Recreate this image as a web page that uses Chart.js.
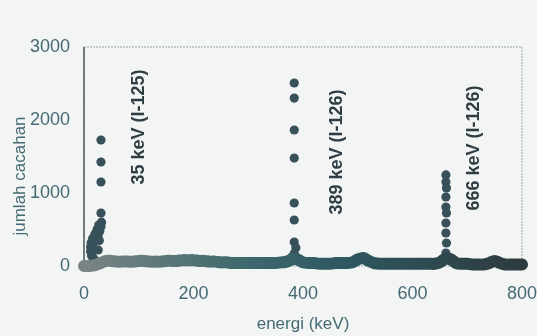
<!DOCTYPE html>
<html>
<head>
<meta charset="utf-8">
<script src="https://cdn.jsdelivr.net/npm/chart.js@4/dist/chart.umd.min.js"></script>
<style>
  html, body { margin: 0; padding: 0; background: #f3f5f4; }
  canvas { display: block; }
</style>
</head>
<body>
<canvas id="spectrum" width="537" height="336"></canvas>
<script>
// continuum (background) counts, every 10 keV from 0 to 800
const continuumEnergy = [0, 10, 20, 30, 40, 50, 60, 70, 80, 90, 100, 110, 120, 130, 140, 150, 160, 170, 180, 190,
  200, 210, 220, 230, 240, 250, 260, 270, 280, 290, 300, 310, 320, 330, 340, 350, 360, 370, 380, 390,
  400, 410, 420, 430, 440, 450, 460, 470, 480, 490, 500, 510, 520, 530, 540, 550, 560, 570, 580, 590,
  600, 610, 620, 630, 640, 650, 660, 670, 680, 690, 700, 710, 720, 730, 740, 750, 760, 770, 780, 790, 800];
const continuumCounts = [0, 0, 10, 40, 70, 70, 60, 60, 60, 60, 70, 70, 60, 60, 60, 70, 70, 70, 80, 80,
  80, 70, 70, 60, 60, 50, 50, 40, 40, 40, 40, 40, 40, 40, 40, 40, 50, 60, 90, 90,
  50, 40, 40, 30, 30, 30, 40, 40, 40, 50, 90, 110, 70, 40, 30, 30, 30, 30, 30, 30,
  30, 30, 30, 30, 30, 50, 100, 90, 40, 30, 30, 20, 20, 20, 40, 70, 40, 20, 20, 20, 20];

// photopeak channels
const peakEnergy = [31, 31, 31, 31,
  32, 31, 29, 26, 22, 18, 15, 14, 14, 15, 17, 20,
  27, 24, 20, 16, 13, 12, 12, 14, 18, 23, 28, 26,
  384, 384, 384, 384, 384, 384, 384, 387, 384, 381, 388,
  661, 661, 662, 661, 661, 662, 661, 661, 662, 661, 661];
const peakCounts = [1726, 1425, 1151, 726,
  600, 540, 480, 430, 380, 330, 280, 230, 180, 130, 80, 40,
  560, 500, 440, 380, 320, 260, 200, 140, 100, 60, 350, 220,
  2507, 2301, 1863, 1479, 863, 630, 329, 250, 170, 130, 120,
  1247, 1151, 1068, 945, 808, 726, 589, 452, 315, 178, 100];

const peakLabels = ["35 keV (I-125)", "389 keV (I-126)", "666 keV (I-126)"];
const peakLabelEnergy = [101, 463, 712];
const peakLabelCounts = [1904, 1562, 1616];

const xTicks = [0, 200, 400, 600, 800];
const yTicks = [0, 1000, 2000, 3000];

const toPoints = (xs, ys) => xs.map((x, i) => ({ x: x, y: ys[i] }));

const frame = {
  id: "frame",
  beforeDatasetsDraw(chart) {
    const { ctx, chartArea: a } = chart;
    ctx.save();
    ctx.strokeStyle = "#9aa4a6";
    ctx.lineWidth = 1;
    ctx.setLineDash([2, 1]);
    ctx.strokeRect(a.left, a.top, a.right - a.left, a.bottom - a.top);
    ctx.setLineDash([]);
    ctx.strokeStyle = "#4f5a5b";
    ctx.lineWidth = 1.5;
    ctx.beginPath();
    ctx.moveTo(a.left, a.top);
    ctx.lineTo(a.left, a.bottom);
    ctx.stroke();
    ctx.restore();
  },
  afterDraw(chart) {
    const { ctx } = chart;
    const x = chart.scales.x, y = chart.scales.y;
    ctx.save();
    ctx.textAlign = "center";
    ctx.textBaseline = "middle";
    ctx.fillStyle = "#2f3e44";
    ctx.font = "bold 18px 'Liberation Sans', Arial, sans-serif";
    peakLabels.forEach((t, i) => {
      ctx.save();
      ctx.translate(x.getPixelForValue(peakLabelEnergy[i]), y.getPixelForValue(peakLabelCounts[i]));
      ctx.rotate(-Math.PI / 2);
      ctx.fillText(t, 0, 0);
      ctx.restore();
    });
    // y axis title
    ctx.fillStyle = "#466a74";
    ctx.font = "17px 'Liberation Sans', Arial, sans-serif";
    ctx.translate(20, 176);
    ctx.rotate(-Math.PI / 2);
    ctx.fillText("jumlah cacahan", 0, 0);
    ctx.restore();
  }
};

const tickFont = { family: "'Liberation Sans', Arial, sans-serif", size: 18 };

new Chart(document.getElementById("spectrum"), {
  type: "scatter",
  data: {
    datasets: [
      {
        label: "continuum",
        data: toPoints(continuumEnergy, continuumCounts),
        showLine: true,
        borderWidth: 12,
        tension: 0.3,
        borderCapStyle: "round",
        borderJoinStyle: "round",
        borderColor: (c) => {
          const a = c.chart.chartArea;
          if (!a) return "#3a5a60";
          const g = c.chart.ctx.createLinearGradient(a.left, 0, a.right, 0);
          g.addColorStop(0, "#7a8484");
          g.addColorStop(0.35, "#3f6a6e");
          g.addColorStop(0.6, "#2e5760");
          g.addColorStop(1, "#2d3b3f");
          return g;
        },
        pointRadius: 0,
        clip: false
      },
      {
        label: "peaks",
        data: toPoints(peakEnergy, peakCounts),
        backgroundColor: "#37505a",
        borderColor: "#37505a",
        pointRadius: 4.6,
        borderWidth: 0,
        clip: false
      }
    ]
  },
  options: {
    responsive: false,
    animation: false,
    layout: { padding: { top: 47, right: 15, left: 0, bottom: 0 } },
    plugins: { legend: { display: false }, tooltip: { enabled: false } },
    scales: {
      x: {
        min: 0,
        max: 800,
        afterBuildTicks: (s) => { s.ticks = xTicks.map((v) => ({ value: v })); },
        afterFit: (s) => { s.height = 70; s.paddingLeft = 0; s.paddingRight = 0; },
        grid: { display: false, drawTicks: false },
        border: { display: false },
        ticks: { padding: 17, color: "#466a74", font: tickFont },
        title: {
          display: true,
          text: "energi (keV)",
          color: "#466a74",
          padding: { top: 0, bottom: 1 },
          font: { family: "'Liberation Sans', Arial, sans-serif", size: 17 }
        }
      },
      y: {
        min: 0,
        max: 3000,
        afterBuildTicks: (s) => { s.ticks = yTicks.map((v) => ({ value: v })); },
        afterFit: (s) => { s.width = 84; s.paddingTop = 0; s.paddingBottom = 0; },
        grid: { display: false, drawTicks: false },
        border: { display: false },
        ticks: { padding: 14, color: "#466a74", callback: (v) => String(v), font: tickFont }
      }
    }
  },
  plugins: [frame]
});
</script>
</body>
</html>
